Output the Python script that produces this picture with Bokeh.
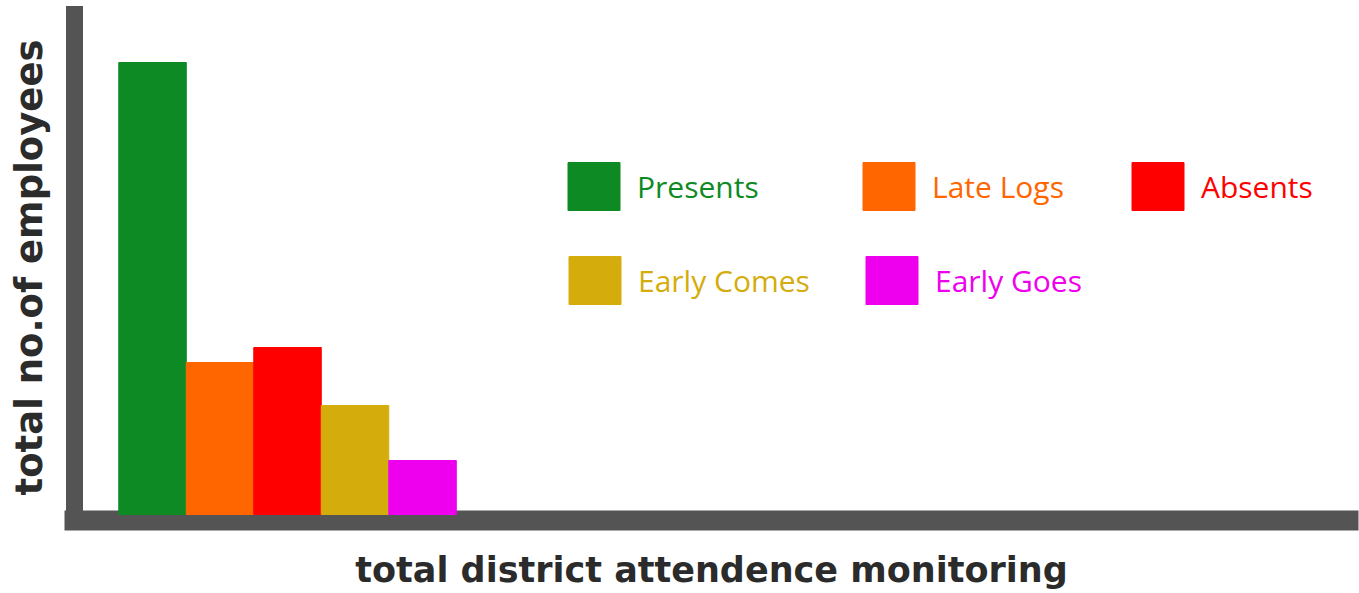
from bokeh.plotting import figure
from bokeh.models import Legend, LegendItem, ColumnDataSource, FixedTicker, Range1d
from bokeh.embed import file_html
from bokeh.resources import INLINE

# ---- data ----
categories = ["Presents", "Late Logs", "Absents", "Early Comes", "Early Goes"]
employees = [452, 152, 167, 109, 54]
bar_colors = ["#0e8a24", "#ff6600", "#ff0000", "#d4ad0d", "#ee00ee"]
x_title = "total district attendence monitoring"
y_title = "total no.of employees"

positions = list(range(1, len(categories) + 1))
src = ColumnDataSource(dict(x=positions, top=employees, color=bar_colors, label=categories))

p = figure(width=1359, height=593, output_backend="svg", toolbar_location=None,
           x_range=Range1d(-0.156, 18.718), y_range=Range1d(-6, 500),
           min_border_left=74, min_border_right=11, min_border_top=14, min_border_bottom=73)

bars = p.vbar(x="x", top="top", bottom=0, width=1, fill_color="color", line_color="color",
              source=src, level="annotation")

# axes as thick gray bars
for ax, w in ((p.xaxis, 20), (p.yaxis, 17)):
    ax.ticker = FixedTicker(ticks=[])
    ax.major_label_text_font_size = "0px"
    ax.major_tick_line_color = None
    ax.minor_tick_line_color = None
    ax.axis_line_color = "#545454"
    ax.axis_line_width = w
    ax.axis_line_cap = "square"
    ax.axis_label_text_font = "DejaVu Sans"
    ax.axis_label_text_font_style = "bold"
    ax.axis_label_text_color = "#2b2b2b"

p.xaxis.axis_label = x_title
p.yaxis.axis_label = y_title
p.xaxis.axis_label_text_font_size = "35px"
p.yaxis.axis_label_text_font_size = "37px"
p.xaxis.axis_label_standoff = 29
p.yaxis.axis_label_standoff = 24

p.xgrid.visible = False
p.ygrid.visible = False
p.outline_line_color = None
p.background_fill_color = "white"

# positions of the legend boxes (px from frame's lower-left)
locs = [(487, 304), (782, 304), (1051, 304), (488, 210), (785, 210)]
for i, cat in enumerate(categories):
    lg = Legend(items=[LegendItem(label=cat, renderers=[bars], index=i)],
                location=locs[i], orientation="horizontal",
                glyph_width=65, glyph_height=60, label_height=60, label_standoff=11,
                padding=0, margin=0, spacing=0,
                border_line_color=None, background_fill_alpha=0,
                label_text_color=bar_colors[i], label_text_font="Open Sans",
                label_text_font_size="30px", label_text_baseline="middle")
    p.add_layout(lg, "center")

open("out.html", "w").write(file_html(p, INLINE))
